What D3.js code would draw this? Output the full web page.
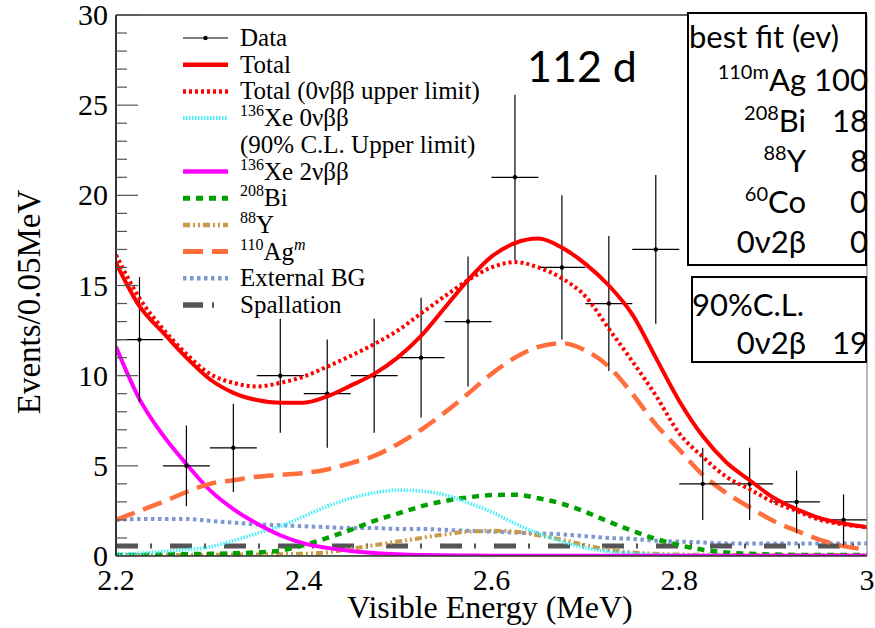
<!DOCTYPE html>
<html><head><meta charset="utf-8">
<script src="https://cdn.jsdelivr.net/npm/d3@7"></script>
<style>body{margin:0;background:#fff}svg{display:block}</style>
</head><body>
<svg id="c" width="875" height="628"></svg>
<script>
// ---- data ----
const binCenters = [2.225,2.275,2.325,2.375,2.425,2.475,2.525,2.575,2.625,2.675,2.725,2.775,2.825,2.875,2.925,2.975];
const counts     = [12,5,6,10,9,10,11,13,21,16,14,17,4,4,3,2];
const binHalfWidth = 0.025;

const energy = [2.200,2.225,2.250,2.275,2.300,2.325,2.350,2.375,2.400,2.425,2.450,2.475,2.500,2.525,2.550,2.575,2.600,2.625,2.650,2.675,2.700,2.725,2.750,2.775,2.800,2.825,2.850,2.875,2.900,2.925,2.950,2.975,3.000];
const totalFit   = [16.25,13.85,12.4,11.0,9.8,9.05,8.65,8.5,8.5,8.85,9.45,10.1,11.0,12.2,13.75,15.3,16.6,17.35,17.6,17.1,16.2,15.0,13.4,11.0,8.6,6.65,5.2,4.2,3.25,2.6,2.1,1.8,1.6];
const totalUpper = [16.7,14.3,12.6,11.2,10.1,9.6,9.4,9.6,9.95,10.5,11.1,11.75,12.5,13.45,14.4,15.3,16.0,16.3,16.0,15.4,14.4,12.6,10.8,8.9,6.8,5.5,4.4,3.7,3.0,2.5,2.0,1.75,1.6];
const xe0nbb     = [0.1,0.15,0.25,0.35,0.5,0.85,1.25,1.65,2.2,2.75,3.2,3.5,3.65,3.6,3.4,2.95,2.45,1.8,1.25,0.8,0.45,0.25,0.15,0.08,0.05,0.03,0.02,0.02,0.02,0.02,0.02,0.02,0.02];
const xe2nbb     = [11.6,8.7,6.7,5.1,3.65,2.6,1.8,1.15,0.7,0.45,0.28,0.17,0.1,0.06,0.04,0.03,0.02,0.02,0.02,0.02,0.02,0.02,0.02,0.02,0.02,0.02,0.02,0.02,0.02,0.02,0.02,0.02,0.02];
const bi208      = [0.05,0.06,0.08,0.1,0.12,0.15,0.2,0.3,0.6,1.0,1.45,1.95,2.35,2.75,3.05,3.25,3.38,3.4,3.2,2.9,2.45,1.9,1.4,0.95,0.6,0.35,0.2,0.12,0.08,0.06,0.05,0.05,0.05];
const y88        = [0.05,0.05,0.06,0.06,0.07,0.08,0.09,0.1,0.12,0.2,0.4,0.6,0.8,1.0,1.2,1.35,1.4,1.35,1.15,0.9,0.6,0.35,0.2,0.12,0.08,0.07,0.06,0.06,0.05,0.05,0.05,0.05,0.05];
const ag110m     = [2.0,2.5,3.0,3.55,4.0,4.2,4.4,4.5,4.6,4.8,5.15,5.55,6.2,7.0,7.95,9.0,10.1,11.0,11.6,11.8,11.4,10.5,9.0,7.3,5.9,4.5,3.5,2.7,1.95,1.4,0.9,0.55,0.35];
const externalBG = [2.0,2.05,2.05,2.05,1.95,1.85,1.75,1.7,1.65,1.6,1.55,1.55,1.5,1.5,1.45,1.4,1.35,1.3,1.25,1.2,1.1,1.0,0.95,0.85,0.8,0.75,0.7,0.7,0.7,0.7,0.7,0.7,0.7];
const spallation = [0.55,0.55,0.55,0.55,0.55,0.55,0.55,0.55,0.55,0.55,0.55,0.55,0.55,0.55,0.55,0.55,0.55,0.55,0.55,0.55,0.55,0.55,0.55,0.55,0.55,0.55,0.55,0.55,0.55,0.55,0.55,0.55,0.55];
const co60       = [0.02,0.02,0.02,0.02,0.02,0.02,0.02,0.02,0.02,0.02,0.02,0.02,0.02,0.02,0.02,0.02,0.02,0.02,0.02,0.02,0.02,0.02,0.02,0.02,0.02,0.02,0.02,0.02,0.02,0.02,0.02,0.02,0.02];

const xTicks = [2.2,2.4,2.6,2.8,3];
const xTickLabels = ["2.2","2.4","2.6","2.8","3"];
const yTicks = [0,5,10,15,20,25,30];
const yTickLabels = ["0","5","10","15","20","25","30"];

const bestFitNames = [["110m","Ag"],["208","Bi"],["88","Y"],["60","Co"],["","0ν2β"]];
const bestFitValues = ["100","18","8","0","0"];
const clValue = "19";

// ---- layout ----
const svg = d3.select("#c");
const L=116, R=867, T=15, B=556;
const x = d3.scaleLinear().domain([2.2,3]).range([L,R]);
const y = d3.scaleLinear().domain([0,30]).range([B,T]);

svg.append("defs").append("clipPath").attr("id","pc")
  .append("rect").attr("x",L).attr("y",T).attr("width",R-L).attr("height",B-T);
const plot = svg.append("g").attr("clip-path","url(#pc)");

const styles = {
  ext:  {data:externalBG, color:"#7d97d6", w:4,   dash:"3.5,3.5"},
  spal: {data:spallation, color:"#555555", w:5,   dash:"22,12,2,18"},
  co:   {data:co60,       color:"#66cc55", w:1.5, dash:null},
  y88:  {data:y88,        color:"#c99a4a", w:4,   dash:"7,3,2,3,2,3"},
  bi:   {data:bi208,      color:"#00a000", w:4.5, dash:"7,6"},
  xe0:  {data:xe0nbb,     color:"#40f0f8", w:3.5, dash:"1.5,1.5"},
  xe2:  {data:xe2nbb,     color:"#ff00ff", w:4,   dash:null},
  ag:   {data:ag110m,     color:"#ff6e3c", w:4.5, dash:"20,9"},
  tup:  {data:totalUpper, color:"#ff0000", w:4,   dash:"3,3"},
  tot:  {data:totalFit,   color:"#ff0000", w:4,   dash:null}
};
const line = d3.line().x((d,i)=>x(energy[i])).y(d=>y(d)).curve(d3.curveMonotoneX);
["ext","spal","co","y88","bi","xe0","xe2","ag"].forEach(k=>{
  const s=styles[k];
  plot.append("path").attr("d",line(s.data)).attr("fill","none")
    .attr("stroke",s.color).attr("stroke-width",s.w).attr("stroke-dasharray",s.dash);
});

// data points
const dg = plot.append("g").attr("stroke","#000").attr("stroke-width",1.2);
binCenters.forEach((c,i)=>{
  const n=counts[i], e=Math.sqrt(n);
  dg.append("line").attr("x1",x(c-binHalfWidth)).attr("x2",x(c+binHalfWidth)).attr("y1",y(n)).attr("y2",y(n));
  dg.append("line").attr("x1",x(c)).attr("x2",x(c)).attr("y1",y(n+e)).attr("y2",y(Math.max(0,n-e)));
  dg.append("circle").attr("cx",x(c)).attr("cy",y(n)).attr("r",2.2).attr("fill","#000").attr("stroke","none");
});

["tup","tot"].forEach(k=>{
  const s=styles[k];
  plot.append("path").attr("d",line(s.data)).attr("fill","none")
    .attr("stroke",s.color).attr("stroke-width",s.w).attr("stroke-dasharray",s.dash);
});

// frame
svg.append("line").attr("x1",L).attr("x2",R).attr("y1",T).attr("y2",T).attr("stroke","#333").attr("stroke-width",1.5);
svg.append("line").attr("x1",R).attr("x2",R).attr("y1",T).attr("y2",B).attr("stroke","#888").attr("stroke-width",1.2);
svg.append("line").attr("x1",L).attr("x2",L).attr("y1",T).attr("y2",B).attr("stroke","#333").attr("stroke-width",2);
svg.append("line").attr("x1",L).attr("x2",R).attr("y1",B).attr("y2",B).attr("stroke","#333").attr("stroke-width",1.5);

// y ticks (inward)
const yMinor = d3.range(0,31,1);
svg.append("g").selectAll("line").data(yMinor).join("line")
  .attr("x1",L).attr("x2",d=>L+(d%5===0?22:11)).attr("y1",d=>y(d)).attr("y2",d=>y(d))
  .attr("stroke","#555").attr("stroke-width",1.2);

const serif = "'Liberation Serif','Times New Roman',serif";
svg.append("g").selectAll("text").data(yTicks).join("text")
  .attr("x",108).attr("y",d=>y(d)+10).attr("text-anchor","end")
  .attr("font-family",serif).attr("font-size",30).text((d,i)=>yTickLabels[i]);
svg.append("g").selectAll("text").data(xTicks).join("text")
  .attr("x",d=>x(d)).attr("y",590).attr("text-anchor","middle")
  .attr("font-family",serif).attr("font-size",30).text((d,i)=>xTickLabels[i]);

svg.append("text").attr("x",490).attr("y",618).attr("text-anchor","middle")
  .attr("font-family",serif).attr("font-size",32).text("Visible Energy (MeV)");
svg.append("text").attr("transform","translate(40,302) rotate(-90)").attr("text-anchor","middle")
  .attr("font-family",serif).attr("font-size",33).text("Events/0.05MeV");

// legend
const lg = svg.append("g").attr("font-family",serif).attr("font-size",25);
const rowY = i=>38+i*26.7;
const legendRows = [
  {key:"data", parts:[["","Data"]]},
  {key:"tot", parts:[["","Total"]]},
  {key:"tup", parts:[["","Total (0νββ upper limit)"]]},
  {key:"xe0", parts:[["sup","136"],["","Xe 0νββ"]]},
  {key:null, parts:[["","(90% C.L. Upper limit)"]]},
  {key:"xe2", parts:[["sup","136"],["","Xe 2νββ"]]},
  {key:"bi", parts:[["sup","208"],["","Bi"]]},
  {key:"y88", parts:[["sup","88"],["","Y"]]},
  {key:"ag", parts:[["sup","110"],["","Ag"],["supi","m"]]},
  {key:"ext", parts:[["","External BG"]]},
  {key:"spal", parts:[["","Spallation"]]}
];
legendRows.forEach((r,i)=>{
  const cy=rowY(i);
  if(r.key==="data"){
    lg.append("line").attr("x1",183).attr("x2",228).attr("y1",cy).attr("y2",cy).attr("stroke","#000").attr("stroke-width",1.2);
    lg.append("circle").attr("cx",205.5).attr("cy",cy).attr("r",2.2).attr("fill","#000");
  } else if(r.key){
    const s=styles[r.key];
    lg.append("line").attr("x1",183).attr("x2",228).attr("y1",cy).attr("y2",cy)
      .attr("stroke",s.color).attr("stroke-width",s.w+0.5).attr("stroke-dasharray",r.key==="spal"?"20,9,2,20":s.dash);
  }
  const t=lg.append("text").attr("x",240).attr("y",cy+8);
  let prevSup=false;
  r.parts.forEach(p=>{
    const ts=t.append("tspan").text(p[1]);
    if(p[0]==="sup"||p[0]==="supi"){
      ts.attr("font-size",16).attr("dy",-10);
      if(p[0]==="supi") ts.attr("font-style","italic");
      prevSup=true;
    } else {
      if(prevSup) ts.attr("dy",10);
      prevSup=false;
    }
  });
});

// "112 d"
const sans = "Lato,'Open Sans',sans-serif";
svg.append("text").attr("x",527).attr("y",82).attr("font-family",sans).attr("font-size",43).text("112 d");

// boxes
svg.append("rect").attr("x",688).attr("y",13).attr("width",178).attr("height",252).attr("fill","#fff").attr("stroke","#000").attr("stroke-width",2);
svg.append("rect").attr("x",692).attr("y",277).attr("width",174).attr("height",85).attr("fill","#fff").attr("stroke","#000").attr("stroke-width",2);
const bx = svg.append("g").attr("font-family",sans).attr("font-size",31);
bx.append("text").attr("x",689).attr("y",48).text("best fit (ev)");
bestFitNames.forEach((nm,i)=>{
  const by=91+i*40.5;
  const t=bx.append("text").attr("x",806).attr("y",by).attr("text-anchor","end");
  if(nm[0]) t.append("tspan").attr("font-size",20).attr("dy",-12).text(nm[0]);
  t.append("tspan").attr("dy",nm[0]?12:0).text(nm[1]);
  bx.append("text").attr("x",868).attr("y",by).attr("text-anchor","end").text(bestFitValues[i]);
});
bx.append("text").attr("x",692).attr("y",316).text("90%C.L.");
bx.append("text").attr("x",806).attr("y",354).attr("text-anchor","end").text("0ν2β");
bx.append("text").attr("x",868).attr("y",354).attr("text-anchor","end").text(clValue);
</script>
</body></html>
